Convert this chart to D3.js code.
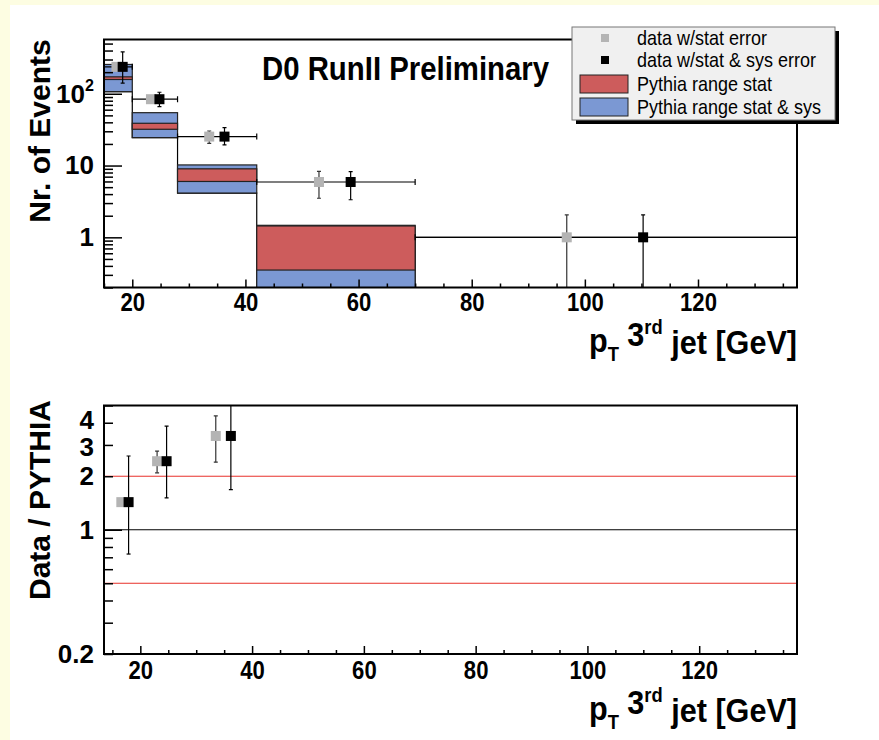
<!DOCTYPE html>
<html>
<head>
<meta charset="utf-8">
<script src="https://cdn.jsdelivr.net/npm/d3@7"></script>
<style>
  body { margin: 0; background: #fff; }
  svg { display: block; }
  text { font-family: "Liberation Sans", Arial, Helvetica, sans-serif; }
</style>
</head>
<body>
<div id="chart"></div>
<script>
// pT bins of the 3rd jet
const binEdges = [15, 20, 28, 42, 70, 137.5];

// Pythia prediction per bin: stat-only range and stat+sys range
const pythiaStatLow  = [158, 32, 6.0, 0.35];
const pythiaStatHigh = [172, 38.8, 9.0, 1.44];
const pythiaSysLow   = [107, 24.5, 4.14, 0.1];
const pythiaSysHigh  = [256, 54.5, 10.2, 1.47];
// lower outline of the prediction, last bin included
const pythiaOutline  = [107, 24.5, 4.14, 0.1, 1];

// measured events, drawn twice: stat-only and stat+sys
const eventsStatX    = [17.2, 23.3, 33.6, 53.0, 96.8];
const eventsSysX     = [18.3, 24.8, 36.3, 58.6, 110.3];
const events         = [237, 84, 25.3, 5.9, 1];
const eventsStatLow  = [222, 75, 20.3, 3.5, 0.01];
const eventsStatHigh = [252, 93, 30.3, 8.3, 2.05];
const eventsSysLow   = [141, 66, 19.4, 3.34, 0.01];
const eventsSysHigh  = [383, 105, 33.7, 8.25, 2.05];

// data / pythia ratio
const ratioStatX    = [16.6, 23.0, 33.5];
const ratioSysX     = [17.9, 24.7, 36.2];
const ratio         = [1.43, 2.43, 3.37];
const ratioStatLow  = [1.38, 2.09, 2.4];
const ratioStatHigh = [1.48, 2.77, 4.37];
const ratioSysLow   = [0.73, 1.51, 1.68];
const ratioSysHigh  = [2.6, 3.83, 5.6];
const ratioRedLines = [0.5, 2];

const xTickLabels   = [20, 40, 60, 80, 100, 120];
const topYLabels    = [1, 10, 100];
const ratioYLabels  = [0.2, 1, 2, 3, 4];

const RED = "#cd5c5c", BLUE = "#7b98d3", GREY = "#b4b4b4";
const SQ = 0.85;   // horizontal squeeze of x tick lettering
const TICK_FONT = 26;

const svg = d3.select("#chart").append("svg")
    .attr("width", 879).attr("height", 740);

svg.append("rect").attr("width", 879).attr("height", 740).attr("fill", "#fdfde2");
svg.append("rect").attr("x", 10).attr("y", 5).attr("width", 869).attr("height", 735).attr("fill", "#fff");

function label(x, y, str, opt = {}) {
    const sq = opt.sq || SQ;
    const t = svg.append("text")
        .attr("transform", `translate(${x},${y}) scale(${sq},1)` + (opt.rotate ? ` rotate(${opt.rotate})` : ""))
        .attr("text-anchor", opt.anchor || "start")
        .attr("font-size", opt.size || 20)
        .attr("font-weight", opt.weight || "bold");
    if (typeof str === "string") t.text(str);
    else str(t);
    return t;
}

function ptTitle(t) {
    t.append("tspan").text("p");
    t.append("tspan").attr("font-size", "0.6em").attr("dy", "0.45em").text("T");
    t.append("tspan").attr("dy", "-0.45em").text(" 3");
    t.append("tspan").attr("font-size", "0.6em").attr("dy", "-0.6em").text("rd");
    t.append("tspan").attr("dy", "0.6em").text(" jet [GeV]");
}

function minorLog(lo, hi) {
    const out = [];
    for (let d = 0.1; d <= 1000; d *= 10)
        for (let m = 1; m < 10; m++) {
            const v = +(m * d).toPrecision(3);
            if (v >= lo && v <= hi) out.push(v);
        }
    return out;
}

function styleAxis(g, sq = SQ) {
    g.select(".domain").remove();
    g.selectAll("line").attr("stroke", "#000").attr("stroke-width", 1.5);
    g.selectAll("text")
        .attr("font-size", TICK_FONT).attr("font-weight", "bold")
        .attr("font-family", "Liberation Sans, Arial, sans-serif")
        .attr("fill", "#000")
        .attr("transform", `scale(${sq},1)`);
}

function errBar(g, x, lo, hi, color) {
    g.append("line").attr("x1", x).attr("x2", x).attr("y1", lo).attr("y2", hi)
        .attr("stroke", color).attr("stroke-width", 1.2);
    [lo, hi].forEach(v => g.append("line").attr("x1", x - 2).attr("x2", x + 2)
        .attr("y1", v).attr("y2", v).attr("stroke", color).attr("stroke-width", 1.2));
}

function square(g, x, y, color, s) {
    g.append("rect").attr("x", x - s / 2).attr("y", y - s / 2)
        .attr("width", s).attr("height", s).attr("fill", color);
}

// ---------- upper panel: number of events ----------
const L = 104, R = 797;
const xTop = d3.scaleLinear().domain([15, 137.5]).range([L, R]);
const yTop = d3.scaleLog().domain([0.2, 570]).range([287.5, 39.5]);

svg.append("clipPath").attr("id", "clipTop").append("rect")
    .attr("x", L).attr("y", 39.5).attr("width", R - L).attr("height", 248);
const upper = svg.append("g").attr("clip-path", "url(#clipTop)");

// step outline under the bands
const path = d3.path();
pythiaOutline.forEach((v, i) => {
    const x0 = xTop(binEdges[i]), x1 = xTop(binEdges[i + 1]), y = yTop(v);
    if (i === 0) path.moveTo(x0, y); else path.lineTo(x0, y);
    path.lineTo(x1, y);
});
upper.append("path").attr("d", path.toString()).attr("fill", "none")
    .attr("stroke", "#000").attr("stroke-width", 1.2);

pythiaSysLow.forEach((v, i) => {
    upper.append("rect")
        .attr("x", xTop(binEdges[i])).attr("width", xTop(binEdges[i + 1]) - xTop(binEdges[i]))
        .attr("y", yTop(pythiaSysHigh[i])).attr("height", yTop(v) - yTop(pythiaSysHigh[i]))
        .attr("fill", BLUE).attr("stroke", "#222").attr("stroke-width", 1.2);
});
pythiaStatLow.forEach((v, i) => {
    upper.append("rect")
        .attr("x", xTop(binEdges[i])).attr("width", xTop(binEdges[i + 1]) - xTop(binEdges[i]))
        .attr("y", yTop(pythiaStatHigh[i])).attr("height", yTop(v) - yTop(pythiaStatHigh[i]))
        .attr("fill", RED).attr("stroke", "#222").attr("stroke-width", 1.2);
});

// horizontal bin-width bars of the data
events.forEach((v, i) => {
    const y = yTop(v), x0 = xTop(binEdges[i]), x1 = xTop(binEdges[i + 1]);
    upper.append("line").attr("x1", x0).attr("x2", x1).attr("y1", y).attr("y2", y)
        .attr("stroke", "#000").attr("stroke-width", 1.2);
    [x0, x1].forEach(x => upper.append("line").attr("x1", x).attr("x2", x)
        .attr("y1", y - 3).attr("y2", y + 3).attr("stroke", "#000").attr("stroke-width", 1.2));
});

events.forEach((v, i) => {
    errBar(upper, xTop(eventsStatX[i]), yTop(eventsStatLow[i]), yTop(eventsStatHigh[i]), "#333");
    square(upper, xTop(eventsStatX[i]), yTop(v), GREY, 10);
    errBar(upper, xTop(eventsSysX[i]), yTop(eventsSysLow[i]), yTop(eventsSysHigh[i]), "#000");
    square(upper, xTop(eventsSysX[i]), yTop(v), "#000", 10);
});

svg.append("rect").attr("x", L).attr("y", 39.5).attr("width", R - L).attr("height", 248)
    .attr("fill", "none").attr("stroke", "#000").attr("stroke-width", 2);

// axes
const xMinor = d3.range(15, 137.5, 5).filter(v => !xTickLabels.includes(v));
svg.append("g").attr("transform", "translate(0,287.5)")
    .call(d3.axisBottom(xTop).tickValues(xMinor).tickSize(-4).tickFormat(""))
    .call(styleAxis);
svg.append("g").attr("transform", "translate(0,287.5)")
    .call(d3.axisBottom(xTop).tickValues(xTickLabels).tickSize(-8).tickPadding(5).tickFormat(d3.format("d")))
    .call(styleAxis);

svg.append("g").attr("transform", `translate(${L},0)`)
    .call(d3.axisLeft(yTop).tickValues(minorLog(0.2, 570).filter(v => !topYLabels.includes(v))).tickSize(-9).tickFormat(""))
    .call(g => styleAxis(g, 1));
svg.append("g").attr("transform", `translate(${L},0)`)
    .call(d3.axisLeft(yTop).tickValues(topYLabels).tickSize(-18).tickPadding(10).tickFormat(d => d === 100 ? "" : d))
    .call(g => styleAxis(g, 1))
    .call(g => g.selectAll(".tick").filter(d => d === 100).select("text")
        .call(t => {
            t.append("tspan").text("10");
            t.append("tspan").attr("font-size", "0.62em").attr("dy", "-0.7em").text("2");
        }));

label(797, 352, ptTitle, { anchor: "end", size: 34, sq: 0.9 });
label(50, 131, "Nr. of Events", { anchor: "middle", size: 30, sq: 1, rotate: -90 });
label(262, 80, "D0 RunII Preliminary", { size: 33, sq: 0.89 });

// legend
svg.append("rect").attr("x", 576).attr("y", 31).attr("width", 263).attr("height", 93).attr("fill", "#000");
svg.append("rect").attr("x", 572).attr("y", 27).attr("width", 263).attr("height", 93)
    .attr("fill", "#f0f0f0").attr("stroke", "#777").attr("stroke-width", 1);
const legendRows = [
    { y: 38, kind: "sq", color: GREY, text: "data w/stat error" },
    { y: 60, kind: "sq", color: "#000", text: "data w/stat & sys error" },
    { y: 84, kind: "box", color: RED, text: "Pythia range stat" },
    { y: 107, kind: "box", color: BLUE, text: "Pythia range stat & sys" }
];
legendRows.forEach(r => {
    if (r.kind === "sq") square(svg, 605, r.y, r.color, 8);
    else svg.append("rect").attr("x", 580).attr("y", r.y - 9).attr("width", 48).attr("height", 18)
        .attr("fill", r.color).attr("stroke", "#222").attr("stroke-width", 1);
    label(637, r.y + 7, r.text, { size: 20, sq: 0.9, weight: "normal" });
});

// ---------- lower panel: ratio ----------
const xBot = d3.scaleLinear().domain([13.5, 137.5]).range([L, R]);
const yBot = d3.scaleLog().domain([0.2, 5]).range([654, 405.5]);

svg.append("clipPath").attr("id", "clipBot").append("rect")
    .attr("x", L).attr("y", 405.5).attr("width", R - L).attr("height", 248.5);
const lower = svg.append("g").attr("clip-path", "url(#clipBot)");

ratioRedLines.forEach(v => lower.append("line").attr("x1", L).attr("x2", R)
    .attr("y1", yBot(v)).attr("y2", yBot(v)).attr("stroke", "#e8302a").attr("stroke-width", 1));
lower.append("line").attr("x1", L).attr("x2", R).attr("y1", yBot(1)).attr("y2", yBot(1))
    .attr("stroke", "#000").attr("stroke-width", 1.2);

ratio.forEach((v, i) => {
    errBar(lower, xBot(ratioStatX[i]), yBot(ratioStatLow[i]), yBot(ratioStatHigh[i]), "#333");
    square(lower, xBot(ratioStatX[i]), yBot(v), GREY, 10);
    errBar(lower, xBot(ratioSysX[i]), yBot(ratioSysLow[i]), yBot(ratioSysHigh[i]), "#000");
    square(lower, xBot(ratioSysX[i]), yBot(v), "#000", 10);
});

svg.append("rect").attr("x", L).attr("y", 405.5).attr("width", R - L).attr("height", 248.5)
    .attr("fill", "none").attr("stroke", "#000").attr("stroke-width", 2);

const xMinorBot = d3.range(15, 137.5, 5).filter(v => !xTickLabels.includes(v));
svg.append("g").attr("transform", "translate(0,654)")
    .call(d3.axisBottom(xBot).tickValues(xMinorBot).tickSize(-4).tickFormat(""))
    .call(styleAxis);
svg.append("g").attr("transform", "translate(0,654)")
    .call(d3.axisBottom(xBot).tickValues(xTickLabels).tickSize(-8).tickPadding(7).tickFormat(d3.format("d")))
    .call(styleAxis);

svg.append("g").attr("transform", `translate(${L},0)`)
    .call(d3.axisLeft(yBot).tickValues(minorLog(0.2, 5).filter(v => v !== 1)).tickSize(-9).tickFormat(""))
    .call(g => styleAxis(g, 1));
svg.append("g").attr("transform", `translate(${L},0)`)
    .call(d3.axisLeft(yBot).tickValues([1]).tickSize(-18).tickFormat(""))
    .call(g => styleAxis(g, 1));
svg.append("g").attr("transform", `translate(${L},0)`)
    .call(d3.axisLeft(yBot).tickValues(ratioYLabels).tickSize(0).tickPadding(10).tickFormat(d => d))
    .call(g => styleAxis(g, 1))
    .call(g => g.selectAll("text").attr("dy", d => d === 4 ? "0.22em" : d === 3 ? "0.42em" : "0.32em"));

label(797, 720, ptTitle, { anchor: "end", size: 34, sq: 0.9 });
label(50, 500, "Data / PYTHIA", { anchor: "middle", size: 30, sq: 1, rotate: -90 });
</script>
</body>
</html>
